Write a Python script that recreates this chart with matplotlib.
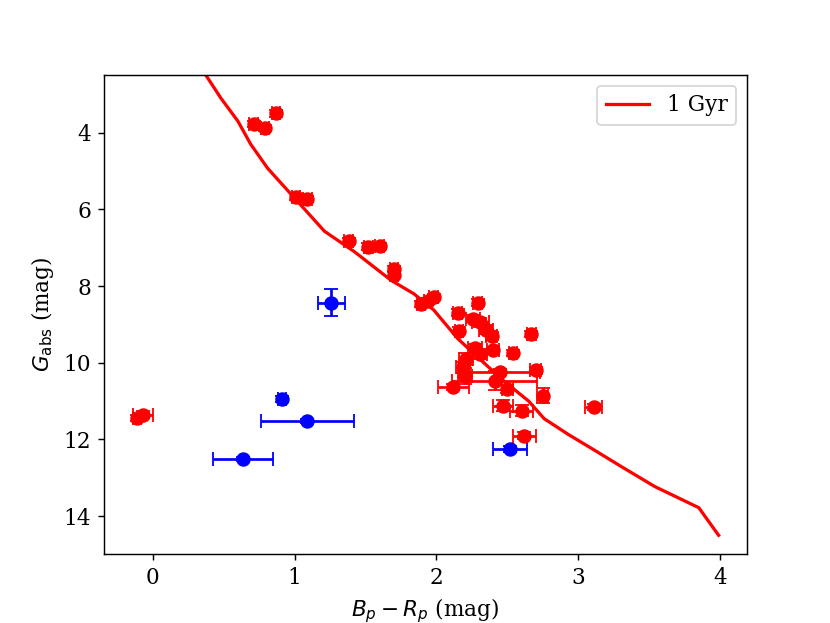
import matplotlib
matplotlib.use("Agg")
import matplotlib.pyplot as plt

plt.rcParams['font.family'] = ['DejaVu Serif']
plt.rcParams['mathtext.fontset'] = 'dejavusans'
plt.rcParams['font.size'] = 12

# Isochrone (1 Gyr)
iso_x = [0.32, 0.374, 0.48, 0.60, 0.69, 0.81, 1.02, 1.21, 1.42, 1.68, 1.84, 1.98,
         2.15, 2.31, 2.48, 2.65, 2.76, 2.93, 3.11, 3.30, 3.54, 3.85, 3.99]
iso_y = [2.2, 2.5, 3.1, 3.7, 4.3, 4.93, 5.79, 6.57, 7.1, 7.85, 8.2, 8.62,
         9.37, 9.92, 10.49, 11.0, 11.46, 11.87, 12.27, 12.7, 13.23, 13.78, 14.5]

# Red sample
red_x = [0.71, 0.79, 0.87, 1.01, 1.09, 1.38, 1.52, 1.60, 1.70, 1.70,
         1.89, 1.94, 1.98, 2.29, 2.15, 2.16, 2.26, 2.31, 2.35, 2.39,
         2.67, 2.27, 2.31, 2.40, 2.54, 2.21, 2.19, 2.20, 2.45, 2.70,
         2.41, 2.12, 2.50, 2.75, 2.47, 2.60, 3.11, 2.62, -0.11, -0.07]
red_y = [3.77, 3.87, 3.50, 5.68, 5.72, 6.82, 6.97, 6.96, 7.55, 7.70,
         8.47, 8.40, 8.28, 8.43, 8.69, 9.16, 8.85, 8.95, 9.14, 9.30,
         9.24, 9.62, 9.77, 9.68, 9.74, 9.90, 10.12, 10.35, 10.25, 10.20,
         10.47, 10.63, 10.68, 10.86, 11.12, 11.25, 11.15, 11.90, 11.45, 11.35]
red_xerr = [0.03, 0.03, 0.03, 0.03, 0.03, 0.03, 0.03, 0.03, 0.03, 0.03,
            0.03, 0.03, 0.03, 0.03, 0.03, 0.03, 0.05, 0.06, 0.05, 0.04,
            0.03, 0.05, 0.05, 0.04, 0.03, 0.05, 0.05, 0.05, 0.28, 0.04,
            0.30, 0.11, 0.04, 0.04, 0.07, 0.08, 0.06, 0.08, 0.03, 0.07]
red_yerr = [0.08, 0.08, 0.08, 0.08, 0.08, 0.08, 0.08, 0.08, 0.08, 0.08,
            0.08, 0.08, 0.08, 0.08, 0.08, 0.10, 0.10, 0.12, 0.12, 0.10,
            0.08, 0.12, 0.12, 0.10, 0.08, 0.15, 0.15, 0.20, 0.08, 0.10,
            0.25, 0.08, 0.10, 0.20, 0.15, 0.15, 0.08, 0.10, 0.08, 0.10]

# Blue sample
blue_x = [1.26, 0.91, 1.09, 0.635, 2.52]
blue_y = [8.43, 10.94, 11.51, 12.52, 12.24]
blue_xerr = [0.095, 0.03, 0.33, 0.21, 0.12]
blue_yerr = [0.35, 0.08, 0.05, 0.05, 0.08]

fig, ax = plt.subplots(figsize=(830/130, 623/130), dpi=130)

ax.plot(iso_x, iso_y, color='red', lw=1.8, label='1 Gyr', zorder=1)
ax.errorbar(red_x, red_y, xerr=red_xerr, yerr=red_yerr, fmt='o', color='red',
            ms=7, capsize=4, elinewidth=1.5, zorder=2)
ax.errorbar(blue_x, blue_y, xerr=blue_xerr, yerr=blue_yerr, fmt='o', color='blue',
            ms=7, capsize=4, elinewidth=1.5, zorder=2)

ax.set_xlim(-0.346, 4.19)
ax.set_ylim(15.0, 2.49)
ax.set_xticks([0, 1, 2, 3, 4])
ax.set_yticks([4, 6, 8, 10, 12, 14])
ax.set_xlabel(r'$B_p - R_p$ (mag)')
ax.set_ylabel(r'$G_{\rm abs}$ (mag)')
ax.legend(loc='upper right')

fig.savefig('out.png', dpi=130)
